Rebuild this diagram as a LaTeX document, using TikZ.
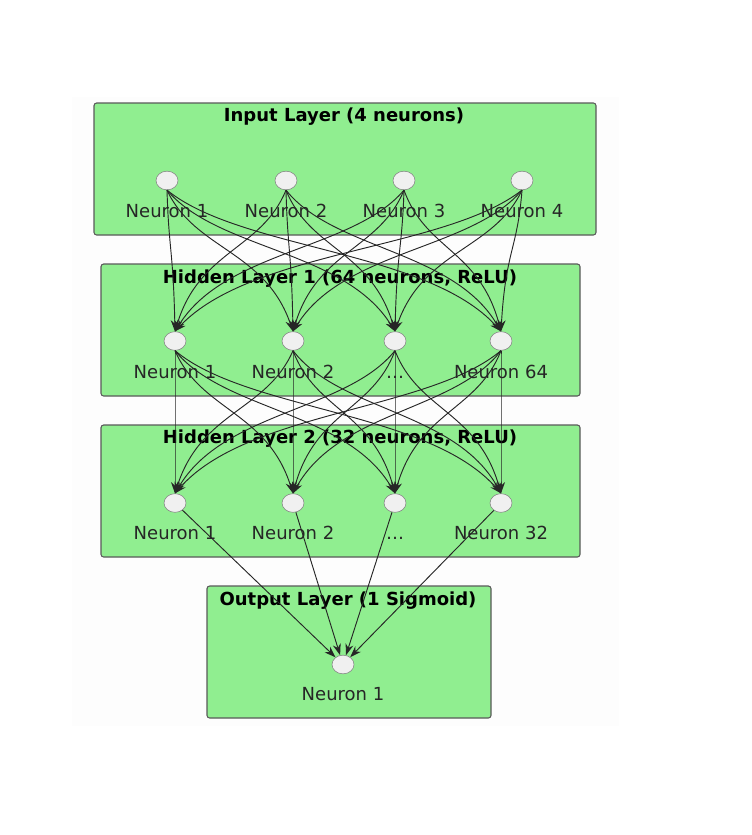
\documentclass[tikz,border=0pt]{standalone}
\usepackage{fontspec}
\setmainfont{DejaVu Sans}
\usepackage{tikz}
\usetikzlibrary{arrows.meta,shapes.geometric}
\definecolor{layergreen}{HTML}{90EE90}
\definecolor{neuronfill}{HTML}{F0F0F0}

\begin{document}
\begin{tikzpicture}[
  x=0.75pt, y=-0.75pt,
  font=\fontsize{13.5}{16}\selectfont,
  layerbox/.style={draw=black!65, fill=layergreen, rounded corners=2pt, line width=0.8pt},
  layertitle/.style={anchor=base, font=\fontsize{13.5}{16}\selectfont\bfseries},
  neuron/.style={ellipse, draw=gray, fill=neuronfill, minimum width=16.5pt, minimum height=14pt, inner sep=0pt},
  nlabel/.style={anchor=base, text=black!85},
  arr/.style={-{Stealth[length=8.5pt,width=6pt]}, black!85, line width=0.7pt}
]
  \useasboundingbox (0,0) rectangle (751,835);
  \fill[black!0.7] (72,97) rectangle (619,726);

  % layers
  \draw[layerbox] (94,103) rectangle (596,235);
  \draw[layerbox] (101,264) rectangle (580,396);
  \draw[layerbox] (101,425) rectangle (580,557);
  \draw[layerbox] (207,586) rectangle (491,718);

  \node[layertitle] (intitle) at (344,121.5) {Input Layer (4 neurons)};
  \node[layertitle] (hatitle) at (340,283) {Hidden Layer 1 (64 neurons, ReLU)};
  \node[layertitle] (hbtitle) at (340,443.5) {Hidden Layer 2 (32 neurons, ReLU)};
  \node[layertitle] (outtitle) at (348,605) {Output Layer (1 Sigmoid)};

  % neurons
  \foreach \n/\x/\t in {1/167/Neuron 1,2/286/Neuron 2,3/404/Neuron 3,4/522/Neuron 4} {
    \node[neuron] (in\n) at (\x,180.5) {};
    \node[nlabel] (in\n lbl) at (\x,217) {\t};
  }
  \foreach \n/\x/\t in {1/175/Neuron 1,2/293/Neuron 2,3/395/\ldots,4/501/Neuron 64} {
    \node[neuron] (ha\n) at (\x,341) {};
    \node[nlabel] (ha\n lbl) at (\x,378) {\t};
  }
  \foreach \n/\x/\t in {1/175/Neuron 1,2/293/Neuron 2,3/395/\ldots,4/501/Neuron 32} {
    \node[neuron] (hb\n) at (\x,503) {};
    \node[nlabel] (hb\n lbl) at (\x,539) {\t};
  }
  \node[neuron] (out1) at (343,664.5) {};
  \node[nlabel] (out1lbl) at (343,700) {Neuron 1};

  % connections
  \foreach \i/\sx in {1/167,2/286,3/404,4/522}
    \foreach \j/\tx in {1/175,2/293,3/395,4/501}
      \draw[arr] (in\i.south) .. controls ({\sx+0.22*(\tx-\sx)},250) and ({\tx-0.22*(\tx-\sx)},250) .. (ha\j.north);
  \foreach \i/\sx in {1/175,2/293,3/395,4/501}
    \foreach \j/\tx in {1/175,2/293,3/395,4/501}
      \draw[arr] (ha\i.south) .. controls ({\sx+0.22*(\tx-\sx)},411) and ({\tx-0.22*(\tx-\sx)},411) .. (hb\j.north);
  \foreach \i in {1,...,4}
    \draw[arr] (hb\i) -- (out1);
\end{tikzpicture}
\end{document}
